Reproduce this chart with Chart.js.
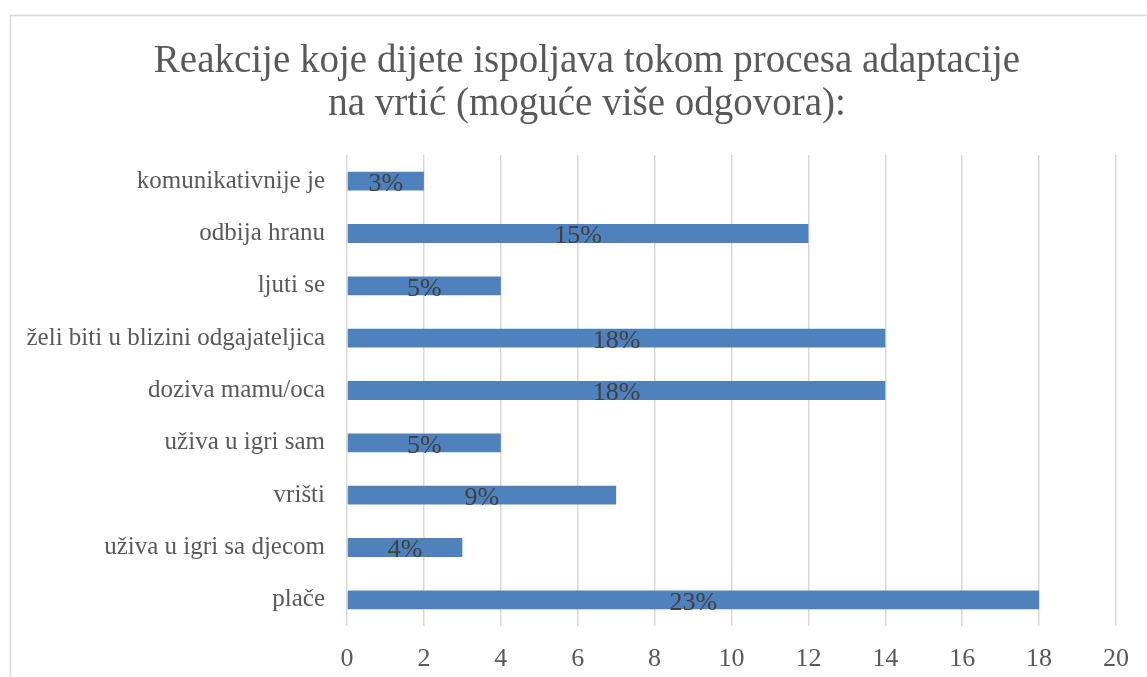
<!DOCTYPE html>
<html>
<head>
<meta charset="utf-8">
<script src="https://cdn.jsdelivr.net/npm/chart.js@4"></script>
<style>
  html, body { margin: 0; padding: 0; background: #fff; overflow: hidden; }
  #wrap { position: relative; width: 1147px; height: 677px; }
</style>
</head>
<body>
<div id="wrap"><canvas id="chart" width="1147" height="677"></canvas></div>
<script>
// chart data
const categories = [
    'komunikativnije je',
    'odbija hranu',
    'ljuti se',
    'želi biti u blizini odgajateljica',
    'doziva mamu/oca',
    'uživa u igri sam',
    'vrišti',
    'uživa u igri sa djecom',
    'plače'
];
const counts = [2, 12, 4, 14, 14, 4, 7, 3, 18];
const percentLabels = ['3%', '15%', '5%', '18%', '18%', '5%', '9%', '4%', '23%'];
const titleLines = ['Reakcije koje dijete ispoljava tokom procesa adaptacije', 'na vrtić (moguće više odgovora):'];

const FONT = "'Liberation Serif', 'Times New Roman', serif";

// outer frame like the office chart box
const framePlugin = {
    id: 'frame',
    beforeDraw(chart) {
        const ctx = chart.ctx;
        ctx.save();
        ctx.fillStyle = '#ffffff';
        ctx.fillRect(0, 0, chart.width, chart.height);
        ctx.strokeStyle = '#d9d9d9';
        ctx.lineWidth = 1.5;
        ctx.strokeRect(10.5, 15.5, 1300, 800);
        ctx.restore();
    }
};

// title centred on the whole frame (space for it is kept by layout padding)
const titlePlugin = {
    id: 'frameTitle',
    afterDraw(chart) {
        const ctx = chart.ctx;
        ctx.save();
        ctx.font = '39px ' + FONT;
        ctx.fillStyle = '#595959';
        ctx.textAlign = 'center';
        ctx.textBaseline = 'middle';
        titleLines.forEach((line, i) => {
            ctx.fillText(line, 587, 61.5 + i * 43);
        });
        ctx.restore();
    }
};

// percentage labels centred in each bar
const barLabels = {
    id: 'barLabels',
    afterDatasetsDraw(chart) {
        const ctx = chart.ctx;
        const meta = chart.getDatasetMeta(0);
        ctx.save();
        ctx.font = '26px ' + FONT;
        ctx.fillStyle = '#404040';
        ctx.textAlign = 'center';
        ctx.textBaseline = 'middle';
        meta.data.forEach((bar, i) => {
            const cx = (bar.x + bar.base) / 2;
            ctx.fillText(percentLabels[i], cx, bar.y + 3);
        });
        ctx.restore();
    }
};

new Chart(document.getElementById('chart').getContext('2d'), {
    type: 'bar',
    data: {
        labels: categories,
        datasets: [{
            data: counts,
            backgroundColor: '#4f81bd',
            borderWidth: 0,
            categoryPercentage: 1,
            barPercentage: 0.36
        }]
    },
    options: {
        indexAxis: 'y',
        responsive: false,
        animation: false,
        layout: {
            padding: { top: 155, left: 20, right: 28, bottom: 0 }
        },
        plugins: {
            legend: { display: false },
            tooltip: { enabled: false },
            title: { display: false }
        },
        scales: {
            x: {
                min: 0,
                max: 20,
                afterFit(scale) { scale.height = 51; },
                ticks: {
                    stepSize: 2,
                    color: '#595959',
                    padding: 18,
                    font: { family: FONT, size: 26 }
                },
                grid: { color: '#d9d9d9', lineWidth: 1.5, drawTicks: false },
                border: { display: false }
            },
            y: {
                afterFit(scale) { scale.width = 327; },
                ticks: {
                    color: '#595959',
                    padding: 22,
                    font: { family: FONT, size: 25 }
                },
                grid: { display: false, drawTicks: false },
                border: { display: false }
            }
        }
    },
    plugins: [framePlugin, barLabels, titlePlugin]
});
</script>
</body>
</html>
